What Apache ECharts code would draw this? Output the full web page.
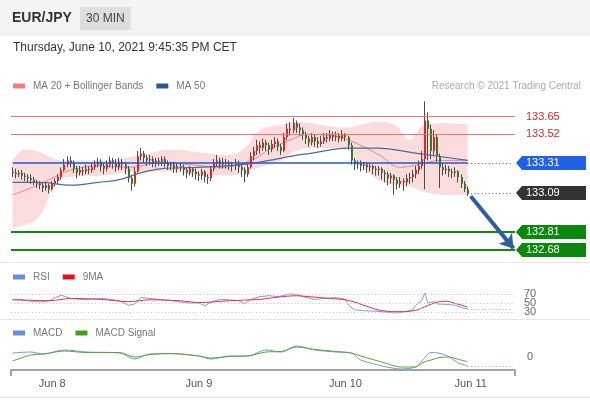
<!DOCTYPE html>
<html>
<head>
<meta charset="utf-8">
<title>EUR/JPY 30 MIN</title>
<script src="https://cdn.jsdelivr.net/npm/echarts@6/dist/echarts.min.js"></script>
<style>
  html, body { margin: 0; padding: 0; background: #fff; }
  #chart { width: 590px; height: 400px; }
</style>
</head>
<body>
<div id="chart"></div>
<script>
// 30 min candles, Sunday evening Jun 7 -> Jun 10 21:00 (one slot per candle)
const opens = [133.25,133.24,133.23,133.24,133.22,133.21,133.20,133.19,133.17,133.16,
  133.15,133.13,133.15,133.12,133.16,133.18,133.21,133.26,133.30,133.33,
  133.31,133.27,133.24,133.26,133.25,133.27,133.26,133.28,133.30,133.32,
  133.29,133.27,133.30,133.33,133.31,133.28,133.32,133.30,133.27,133.20,
  133.16,133.25,133.36,133.38,133.35,133.33,133.34,133.31,133.33,133.32,
  133.34,133.31,133.29,133.30,133.27,133.29,133.28,133.26,133.24,133.27,
  133.25,133.23,133.22,133.25,133.21,133.20,133.27,133.31,133.33,133.30,
  133.32,133.31,133.30,133.29,133.31,133.28,133.26,133.23,133.28,133.36,
  133.40,133.44,133.42,133.46,133.44,133.41,133.45,133.47,133.43,133.40,
  133.50,133.56,133.55,133.60,133.57,133.55,133.52,133.49,133.46,133.50,
  133.47,133.45,133.47,133.50,133.49,133.52,133.50,133.51,133.49,133.52,
  133.50,133.44,133.33,133.30,133.31,133.29,133.30,133.28,133.29,133.27,
  133.26,133.27,133.24,133.23,133.20,133.22,133.19,133.16,133.18,133.17,
  133.20,133.21,133.23,133.26,133.29,133.34,133.62,133.56,133.40,133.50,
  133.36,133.28,133.26,133.27,133.25,133.24,133.25,133.21,133.16,133.12];
const closes = [133.24,133.23,133.24,133.22,133.21,133.20,133.19,133.17,133.16,133.15,
  133.13,133.15,133.12,133.16,133.18,133.21,133.26,133.30,133.33,133.31,
  133.27,133.24,133.26,133.25,133.27,133.26,133.28,133.30,133.32,133.29,
  133.27,133.30,133.33,133.31,133.28,133.32,133.30,133.27,133.20,133.16,
  133.25,133.36,133.38,133.35,133.33,133.34,133.31,133.33,133.32,133.34,
  133.31,133.29,133.30,133.27,133.29,133.28,133.26,133.24,133.27,133.25,
  133.23,133.22,133.25,133.21,133.20,133.27,133.31,133.33,133.30,133.32,
  133.31,133.30,133.29,133.31,133.28,133.26,133.23,133.28,133.36,133.40,
  133.44,133.42,133.46,133.44,133.41,133.45,133.47,133.43,133.40,133.50,
  133.56,133.55,133.60,133.57,133.55,133.52,133.49,133.46,133.50,133.47,
  133.45,133.47,133.50,133.49,133.52,133.50,133.51,133.49,133.52,133.50,
  133.44,133.33,133.30,133.31,133.29,133.30,133.28,133.29,133.27,133.26,
  133.27,133.24,133.23,133.20,133.22,133.19,133.16,133.18,133.17,133.20,
  133.21,133.23,133.26,133.29,133.34,133.62,133.56,133.40,133.50,133.36,
  133.28,133.26,133.27,133.25,133.24,133.25,133.21,133.16,133.12,133.09];
const highs = [133.28,133.27,133.26,133.26,133.24,133.23,133.23,133.21,133.19,133.18,
  133.17,133.17,133.16,133.18,133.20,133.23,133.28,133.34,133.36,133.36,
  133.33,133.29,133.29,133.28,133.30,133.29,133.31,133.33,133.35,133.34,
  133.31,133.33,133.36,133.35,133.34,133.35,133.34,133.32,133.29,133.22,
  133.28,133.40,133.42,133.40,133.37,133.37,133.36,133.35,133.35,133.36,
  133.36,133.33,133.32,133.32,133.31,133.31,133.30,133.28,133.29,133.28,
  133.27,133.25,133.27,133.26,133.23,133.29,133.34,133.37,133.35,133.35,
  133.34,133.33,133.32,133.34,133.33,133.30,133.28,133.31,133.39,133.43,
  133.48,133.47,133.49,133.48,133.46,133.48,133.50,133.49,133.45,133.53,
  133.60,133.61,133.64,133.62,133.60,133.57,133.54,133.51,133.53,133.52,
  133.50,133.51,133.53,133.53,133.55,133.54,133.54,133.53,133.55,133.53,
  133.51,133.46,133.35,133.33,133.33,133.32,133.32,133.31,133.30,133.29,
  133.29,133.28,133.26,133.25,133.24,133.23,133.21,133.21,133.20,133.23,
  133.24,133.26,133.29,133.33,133.40,133.76,133.68,133.59,133.55,133.52,
  133.38,133.31,133.30,133.29,133.27,133.28,133.26,133.23,133.18,133.14];
const lows = [133.21,133.20,133.21,133.19,133.18,133.17,133.16,133.15,133.13,133.12,
  133.10,133.11,133.09,133.11,133.14,133.16,133.19,133.25,133.28,133.28,
  133.24,133.20,133.22,133.22,133.23,133.23,133.24,133.26,133.28,133.25,
  133.23,133.25,133.28,133.27,133.25,133.26,133.26,133.23,133.17,133.11,
  133.14,133.24,133.33,133.31,133.29,133.30,133.28,133.28,133.29,133.29,
  133.28,133.26,133.26,133.24,133.24,133.25,133.22,133.20,133.22,133.21,
  133.19,133.18,133.19,133.17,133.16,133.18,133.25,133.29,133.27,133.27,
  133.27,133.26,133.25,133.26,133.24,133.21,133.17,133.21,133.27,133.33,
  133.37,133.38,133.40,133.40,133.37,133.39,133.42,133.40,133.37,133.39,
  133.48,133.51,133.53,133.53,133.51,133.48,133.45,133.43,133.44,133.43,
  133.42,133.43,133.45,133.46,133.47,133.47,133.47,133.46,133.47,133.47,
  133.41,133.30,133.26,133.27,133.25,133.26,133.24,133.25,133.23,133.22,
  133.22,133.19,133.17,133.15,133.16,133.08,133.12,133.13,133.11,133.14,
  133.16,133.17,133.20,133.23,133.27,133.12,133.33,133.34,133.36,133.32,
  133.13,133.22,133.23,133.21,133.20,133.21,133.17,133.13,133.10,133.07];

// indicator readings, taken at the slots listed next to them
const bandSlots = [0, 4, 9, 13, 16, 29, 42, 52, 61, 71, 76, 81, 88, 94, 101, 109, 114, 119, 125, 130, 135, 142, 149];
const bandUpper = [133.33, 133.41, 133.39, 133.35, 133.33, 133.33, 133.37, 133.41, 133.39, 133.37, 133.42, 133.55,
  133.59, 133.61, 133.59, 133.57, 133.59, 133.61, 133.59, 133.48, 133.59, 133.60, 133.59];
const bandLower = [132.84, 132.86, 132.93, 133.12, 133.20, 133.22, 133.25, 133.25, 133.22, 133.22, 133.25, 133.28,
  133.33, 133.41, 133.42, 133.41, 133.30, 133.20, 133.15, 133.14, 133.10, 133.08, 133.08];
const ma20Slots = [0, 6, 12, 19, 29, 38, 48, 58, 68, 78, 84, 91, 97, 107, 114, 120, 127, 133, 140, 149];
const ma20 = [133.08, 133.13, 133.19, 133.26, 133.29, 133.28, 133.31, 133.30, 133.28, 133.33, 133.41, 133.48,
  133.52, 133.50, 133.44, 133.37, 133.28, 133.30, 133.33, 133.33];
const ma50Slots = [0, 9, 19, 28, 35, 42, 49, 61, 75, 84, 91, 97, 110, 119, 133, 149];
const ma50 = [133.17, 133.17, 133.15, 133.17, 133.19, 133.24, 133.27, 133.28, 133.30, 133.33, 133.36, 133.38,
  133.42, 133.42, 133.38, 133.33];

const rsiSlots = [0,2,6,9,12,14,16,19,22,25,29,32,35,38,40,42,45,48,52,55,58,61,63,65,68,71,74,76,78,81,
  84,87,91,93,96,99,102,106,109,110,112,115,119,122,125,128,131,132,134,135,136,138,139,142,145,147,149];
const rsi = [58,58,54,52,55,62,67,60,58,58,60,58,55,45,48,62,60,58,55,52,50,50,44,52,58,57,55,48,58,64,
  66,64,70,69,62,58,60,62,58,45,35,33,32,30,28,30,35,45,56,72,50,53,48,47,45,40,37];
const rsiMaSlots = [0,6,12,19,29,38,45,55,61,71,81,87,93,97,104,109,112,115,119,124,128,132,135,139,142,145,149];
const rsiMa = [57,56,55,60,58,53,57,55,51,55,58,63,66,64,60,57,52,45,36,31,31,34,42,52,54,49,41];
const rsiLevels = [70, 50, 30];

const macdSlots = [0,6,10,17,24,35,40,45,52,61,65,71,77,83,88,93,99,106,111,114,122,127,132,134,137,140,143,146,149];
const macd = [0.02,0.025,0.015,0.035,0.025,0.02,-0.01,0.015,0.017,0.005,-0.01,0.005,0.005,0.035,0.025,
  0.055,0.035,0.025,0.02,-0.015,-0.048,-0.06,-0.05,-0.02,0.022,0.018,0,-0.03,-0.045];
const macdSignal = [-0.02,0.01,0.015,0.03,0.0225,0.0225,0,0.0125,0.017,0.005,-0.005,0.0025,0.005,0.025,0.0275,
  0.05,0.0375,0.0275,0.02,0.005,-0.03,-0.05,-0.05,-0.03,-0.015,-0.002,0,-0.012,-0.023];

// levels from the analysis
const resistances = [133.65, 133.52];
const pivot = 133.31;
const supports = [132.81, 132.68];
const arrowFrom = [150, 133.07];
const arrowTo = [164, 132.69];

// x axis
const slotCount = 165;
const dayLabels = ['Jun 8', 'Jun 9', 'Jun 10', 'Jun 11'];
const dayLabelSlots = [13, 61, 109, 150];

const UP = '#d22b2b', DOWN = '#35782a', WICK = '#4a4a4a';
const FONT = 'Liberation Sans, Arial, sans-serif';

const slots = Array.from({length: slotCount}, (_, i) => String(i));
const lastSlot = closes.length - 1;
const lastClose = closes[lastSlot];
const pairs = (xs, ys) => xs.map((x, k) => [x, ys[k]]);
const dots = [1, 2.5];

const chart = echarts.init(document.getElementById('chart'));

function renderCandle(params, api) {
  const slot = api.value(0);
  const open = api.value(1), close = api.value(2);
  const top = api.coord([slot, Math.max(open, close)]);
  const bottom = api.coord([slot, Math.min(open, close)]);
  const hi = api.coord([slot, api.value(4)]);
  const lo = api.coord([slot, api.value(3)]);
  const x = Math.round(top[0] - 1);
  return {
    type: 'group',
    children: [{
      type: 'line',
      shape: {x1: x + 0.5, y1: hi[1], x2: x + 0.5, y2: lo[1]},
      style: {stroke: WICK, lineWidth: 1}
    }, {
      type: 'rect',
      shape: {x: x, y: top[1], width: 2, height: Math.max(1, bottom[1] - top[1])},
      style: {fill: close >= open ? UP : DOWN}
    }]
  };
}

const hiddenX = (gridIndex) => ({
  type: 'category', gridIndex, data: slots, boundaryGap: true, show: false
});
const legendBase = {
  left: 13, padding: 0, itemGap: 13, icon: 'rect', itemWidth: 12, itemHeight: 5,
  selectedMode: false, textStyle: {color: '#777', fontSize: 10, padding: [0, 0, 0, 3]}
};

chart.setOption({
  animation: false,
  textStyle: {fontFamily: FONT},
  title: [{
    text: 'EUR/JPY', left: 12, top: 11, padding: 0,
    textStyle: {fontSize: 14, fontWeight: 'bold', color: '#333'}
  }, {
    text: '30 MIN', left: 80, top: 7, padding: [6, 6, 5, 6], backgroundColor: '#dedede',
    textStyle: {fontSize: 12, fontWeight: 'normal', color: '#444'}
  }, {
    text: 'Thursday, June 10, 2021 9:45:35 PM CET', left: 13, top: 42, padding: 0,
    textStyle: {fontSize: 12, fontWeight: 'normal', color: '#333'}
  }, {
    text: 'Research © 2021 Trading Central', right: 9, top: 81, padding: 0,
    textStyle: {fontSize: 10, fontWeight: 'normal', color: '#aaa'}
  }],
  legend: [
    Object.assign({top: 81, data: ['MA 20 + Bollinger Bands', 'MA 50']}, legendBase),
    Object.assign({top: 272, data: ['RSI', '9MA']}, legendBase),
    Object.assign({top: 328, data: ['MACD', 'MACD Signal']}, legendBase)
  ],
  grid: [
    {left: 11, right: 75, top: 100, height: 158},
    {left: 11, right: 75, top: 288, height: 30},
    {left: 11, right: 75, top: 340, height: 30}
  ],
  xAxis: [hiddenX(0), hiddenX(1), {
    type: 'category', gridIndex: 2, data: slots, boundaryGap: true,
    axisLine: {show: true, onZero: false, lineStyle: {color: '#a3a3a3', width: 2}},
    axisTick: {show: true, interval: (i) => i === 0, length: 6, lineStyle: {color: '#a3a3a3', width: 2}},
    axisLabel: {
      interval: (i) => dayLabelSlots.includes(i),
      formatter: (v, i) => dayLabels[dayLabelSlots.indexOf(i)] || '',
      color: '#555', fontSize: 11, margin: 8
    },
    splitLine: {show: false}
  }],
  yAxis: [{
    type: 'value', gridIndex: 0, min: 132.62, max: 133.77, show: false
  }, {
    type: 'value', gridIndex: 1, min: 17, max: 83, show: false
  }, {
    type: 'value', gridIndex: 2, min: -0.065, max: 0.085, position: 'right',
    axisLine: {show: false}, axisTick: {show: false}, splitLine: {show: false},
    axisLabel: {customValues: [0], color: '#666', fontSize: 11, margin: 12}
  }],
  series: [{
    // bollinger band: lower edge + band width stacked on it
    name: 'bb-lower', type: 'line', xAxisIndex: 0, yAxisIndex: 0, stack: 'bb',
    data: pairs(bandSlots, bandLower), smooth: 0.4, symbol: 'none',
    lineStyle: {width: 0}, silent: true, z: 1
  }, {
    name: 'bb-width', type: 'line', xAxisIndex: 0, yAxisIndex: 0, stack: 'bb',
    data: pairs(bandSlots, bandUpper.map((u, k) => +(u - bandLower[k]).toFixed(3))),
    smooth: 0.4, symbol: 'none', lineStyle: {width: 0},
    areaStyle: {color: '#fbdcdc', opacity: 1}, silent: true, z: 1
  }, {
    name: 'MA 20 + Bollinger Bands', type: 'line', xAxisIndex: 0, yAxisIndex: 0,
    data: pairs(ma20Slots, ma20), smooth: 0.4, symbol: 'none', color: '#f08080',
    lineStyle: {width: 1, color: '#ef8585'}, z: 2
  }, {
    name: 'candles', type: 'custom', xAxisIndex: 0, yAxisIndex: 0,
    renderItem: renderCandle,
    encode: {x: 0, y: [1, 2, 3, 4]},
    data: opens.map((o, i) => [i, o, closes[i], lows[i], highs[i]]),
    z: 3
  }, {
    name: 'MA 50', type: 'line', xAxisIndex: 0, yAxisIndex: 0,
    data: pairs(ma50Slots, ma50), smooth: 0.4, symbol: 'none', color: '#2f5597',
    lineStyle: {width: 1.2, color: '#4d6a9c'}, z: 4,
    markLine: {
      silent: true, symbol: ['none', 'none'], label: {show: false},
      data: [
        ...resistances.map(v => ({
          yAxis: v, lineStyle: {color: '#e87878', width: 1, type: 'solid'},
          label: {show: true, position: 'end', distance: 11, formatter: v.toFixed(2),
            color: '#d8262b', fontSize: 11, fontFamily: FONT}
        })),
        ...supports.map(v => ({yAxis: v, lineStyle: {color: '#128a12', width: 2, type: 'solid'}})),
        [{coord: [0, pivot], lineStyle: {color: '#2158d8', width: 1.5, type: 'solid'}}, {coord: [lastSlot, pivot]}],
        [{coord: [lastSlot, pivot], lineStyle: {color: '#2158d8', width: 1, type: dots}}, {coord: [slotCount - 1, pivot]}],
        [{coord: [lastSlot, lastClose], lineStyle: {color: '#666', width: 1, type: dots}}, {coord: [slotCount - 1, lastClose]}],
        [{coord: arrowFrom, symbol: 'none', lineStyle: {color: '#2f5d9e', width: 4, type: 'solid'}},
         {coord: arrowTo, symbol: 'arrow', symbolSize: 13}]
      ]
    }
  }, {
    name: 'RSI', type: 'line', xAxisIndex: 1, yAxisIndex: 1,
    data: pairs(rsiSlots, rsi), symbol: 'none', color: '#6a8fd8',
    lineStyle: {width: 1, color: '#7b9be0'}, z: 3,
    markLine: {
      silent: true, symbol: ['none', 'none'], label: {show: false},
      lineStyle: {color: '#c4c4c4', width: 1, type: dots},
      data: [
        ...rsiLevels.map(v => ({
          yAxis: v,
          label: {show: true, position: 'end', distance: 9, formatter: String(v),
            color: '#666', fontSize: 11, fontFamily: FONT}
        })),
        [{coord: [rsiSlots[rsiSlots.length - 1], rsi[rsi.length - 1]], lineStyle: {color: '#8fa8e0'}},
         {coord: [slotCount - 1, rsi[rsi.length - 1]]}]
      ]
    }
  }, {
    name: '9MA', type: 'line', xAxisIndex: 1, yAxisIndex: 1,
    data: pairs(rsiMaSlots, rsiMa), smooth: 0.3, symbol: 'none', color: '#e8101e',
    lineStyle: {width: 1, color: '#e0304a'}, z: 4
  }, {
    name: 'MACD', type: 'line', xAxisIndex: 2, yAxisIndex: 2,
    data: pairs(macdSlots, macd), smooth: 0.3, symbol: 'none', color: '#6a8fd8',
    lineStyle: {width: 1, color: '#7094dc'}, z: 3,
    markLine: {
      silent: true, symbol: ['none', 'none'], label: {show: false},
      data: [
        [{coord: [macdSlots[macdSlots.length - 1], macd[macd.length - 1]],
          lineStyle: {color: '#8fa8e0', width: 1, type: dots}},
         {coord: [slotCount - 1, macd[macd.length - 1]]}]
      ]
    }
  }, {
    name: 'MACD Signal', type: 'line', xAxisIndex: 2, yAxisIndex: 2,
    data: pairs(macdSlots, macdSignal), smooth: 0.3, symbol: 'none', color: '#4a9a1a',
    lineStyle: {width: 1, color: '#5aa532'}, z: 4
  }]
});

// frame pieces and the price tags on the right, placed through the price axis
const tagLevels = [pivot, lastClose, ...supports];
const tagColors = ['#1f62e6', '#333333', '#0b870b', '#0b870b'];
const graphics = [
  {type: 'rect', shape: {x: 0, y: 0, width: 590, height: 36}, style: {fill: '#f3f3f3'}, z: -10},
  {type: 'line', shape: {x1: 0, y1: 262.5, x2: 590, y2: 262.5}, style: {stroke: '#e6e6e6', lineWidth: 1}},
  {type: 'line', shape: {x1: 0, y1: 319.5, x2: 590, y2: 319.5}, style: {stroke: '#e6e6e6', lineWidth: 1}},
  {type: 'line', shape: {x1: 0, y1: 397.5, x2: 590, y2: 397.5}, style: {stroke: '#e0e0e0', lineWidth: 1}}
];
tagLevels.forEach((v, k) => {
  const y = Math.round(chart.convertToPixel({yAxisIndex: 0}, v));
  graphics.push({
    type: 'polygon', z: 10,
    shape: {points: [[516, y], [522, y - 7], [586, y - 7], [586, y + 7], [522, y + 7]]},
    style: {fill: tagColors[k]}
  });
  graphics.push({
    type: 'text', z: 11, x: 526, y: y,
    style: {text: v.toFixed(2), fill: '#fff', font: '11px ' + FONT, verticalAlign: 'middle'}
  });
});
chart.setOption({graphic: graphics});
</script>
</body>
</html>
